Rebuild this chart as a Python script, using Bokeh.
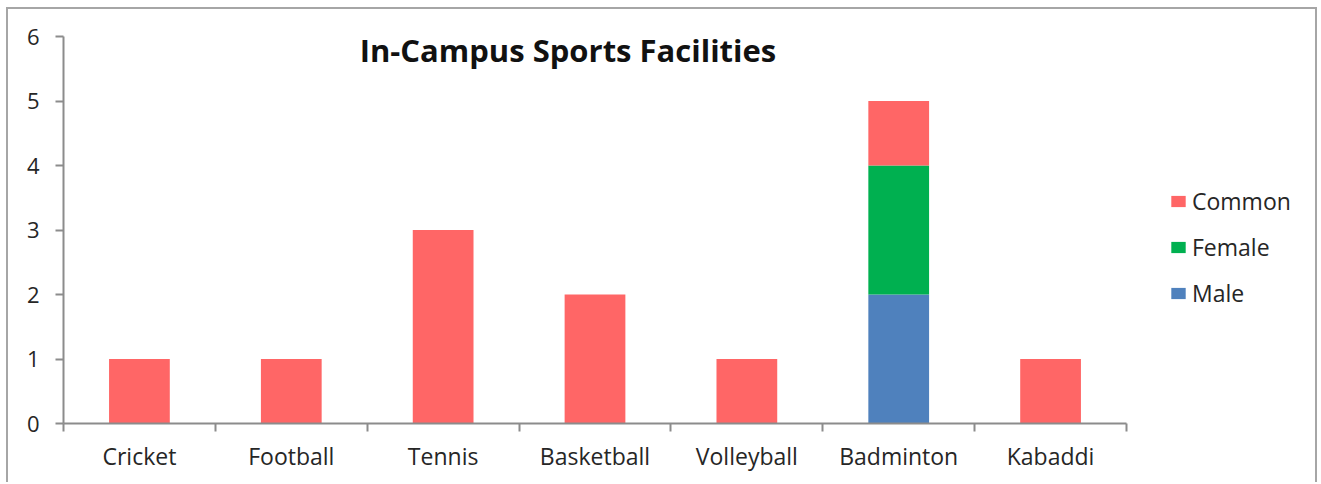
from bokeh.plotting import figure
from bokeh.models import Range1d, FixedTicker, Label, Legend, LegendItem
from bokeh.embed import file_html
from bokeh.resources import INLINE

categories = ["Cricket", "Football", "Tennis", "Basketball", "Volleyball", "Badminton", "Kabaddi"]
male = [0, 0, 0, 0, 0, 2, 0]
female = [0, 0, 0, 0, 0, 2, 0]
common = [1, 1, 3, 2, 1, 1, 1]
y_ticks = [0, 1, 2, 3, 4, 5, 6]
title_text = "In-Campus Sports Facilities"

FONT = "Open Sans"
AXIS_GRAY = "#8c8c8c"
TEXT = "#262626"

n = len(categories)
xs = [i + 0.5 for i in range(n)]
data = dict(x=xs, male=male, female=female, common=common)

# frame extends under the legend area; the x axis itself is bounded to the categories
AXIS_PX = 1063          # pixel length of the category axis
FRAME_PX = 1248         # pixel width of the whole frame
x_end = n * FRAME_PX / AXIS_PX

p = figure(width=1307, height=475, output_backend="svg", toolbar_location=None,
           x_range=Range1d(0, x_end), y_range=Range1d(0, 6),
           min_border_left=55, min_border_right=1307 - 55 - FRAME_PX,
           min_border_top=27, min_border_bottom=61)
p.styles = {"margin-left": "8px", "margin-top": "9px",
            "box-shadow": "-2px -2px 0 0 #a6a6a6, 2px -2px 0 0 #a6a6a6"}
p.outline_line_color = None
p.grid.grid_line_color = None

rs = p.vbar_stack(["male", "female", "common"], x="x", width=0.4, source=data,
                  color=["#4f81bd", "#00b050", "#ff6666"], line_color=None)

# axes
xa = p.xaxis[0]
xa.bounds = (0, n)
xa.ticker = FixedTicker(ticks=xs, minor_ticks=list(range(n + 1)))
xa.major_label_overrides = {x: c for x, c in zip(xs, categories)}
xa.major_tick_out = 0
xa.major_tick_in = 0
xa.minor_tick_out = 8
xa.minor_tick_in = 0
xa.minor_tick_line_color = AXIS_GRAY
xa.minor_tick_line_width = 2
xa.axis_line_color = AXIS_GRAY
xa.axis_line_width = 2
xa.major_label_text_font = FONT
xa.major_label_text_font_size = "23px"
xa.major_label_text_color = TEXT
xa.major_label_standoff = 8

ya = p.yaxis[0]
ya.ticker = FixedTicker(ticks=y_ticks, minor_ticks=[])
ya.major_tick_out = 8
ya.major_tick_in = 0
ya.major_tick_line_color = AXIS_GRAY
ya.major_tick_line_width = 2
ya.axis_line_color = AXIS_GRAY
ya.axis_line_width = 2
ya.major_label_text_font = FONT
ya.major_label_text_font_size = "22px"
ya.major_label_text_color = TEXT
ya.major_label_standoff = 16

title = Label(x=3.322, y=5.79, text=title_text, text_align="center", text_baseline="middle",
              text_font=FONT, text_font_style="bold", text_font_size="31px", text_color="#111111")
p.add_layout(title)

legend = Legend(items=[LegendItem(label="Common", renderers=[rs[2]]),
                       LegendItem(label="Female", renderers=[rs[1]]),
                       LegendItem(label="Male", renderers=[rs[0]])],
                location=(1106, 114), orientation="vertical",
                glyph_width=18, glyph_height=14, label_height=32, spacing=14,
                padding=0, margin=0, label_standoff=5,
                label_text_font=FONT, label_text_font_size="23px", label_text_color=TEXT,
                border_line_color=None, background_fill_alpha=0)
p.add_layout(legend)

open("out.html", "w").write(file_html(p, INLINE))
